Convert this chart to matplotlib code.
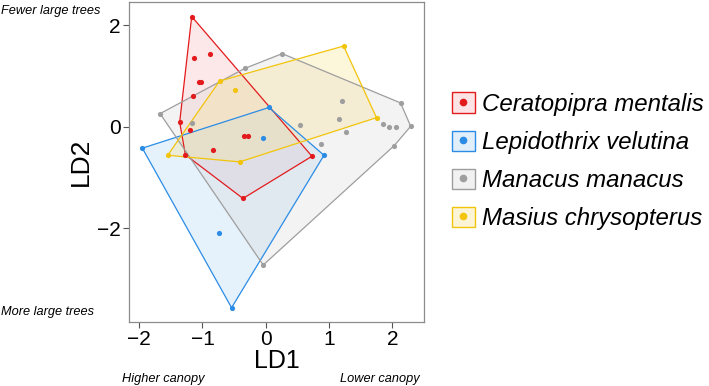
import numpy as np
import matplotlib
matplotlib.use("Agg")
import matplotlib.pyplot as plt
from matplotlib.patches import Polygon, Patch
from matplotlib.lines import Line2D

plt.rcParams['font.family'] = ['Liberation Sans', 'DejaVu Sans']

# LD scores, one pair of arrays per species
species = ["Ceratopipra mentalis", "Lepidothrix velutina",
           "Manacus manacus", "Masius chrysopterus"]

cer_ld1 = [-1.17, -0.88, -1.14, -1.06, -1.03, -1.15, -1.36, -1.20, -0.35, -0.28, -0.84, -1.27, -0.36, 0.73]
cer_ld2 = [2.17, 1.44, 1.35, 0.89, 0.89, 0.61, 0.09, -0.07, -0.18, -0.18, -0.46, -0.55, -1.41, -0.58]

lep_ld1 = [0.05, -0.04, -1.95, 0.92, -0.74, -0.54]
lep_ld2 = [0.38, -0.22, -0.42, -0.56, -2.09, -3.56]

man_ld1 = [-0.33, -1.67, -1.17, 0.26, 2.13, 2.29, 2.03, 1.20, 1.16, 1.27, 0.54, 0.88, 1.86, 1.95, 2.06, -0.04]
man_ld2 = [1.15, 0.26, 0.07, 1.44, 0.47, 0.01, -0.37, 0.50, 0.15, -0.10, 0.03, -0.33, 0.05, -0.01, -0.01, -2.72]

mas_ld1 = [-0.73, -0.49, -1.55, -0.41, 1.23, 1.75]
mas_ld2 = [0.90, 0.72, -0.56, -0.69, 1.59, 0.18]

colors = ["#e31a1c", "#2b8ce6", "#9e9e9e", "#f2c40c"]
fills = ["#f8b4b8", "#a9d2f5", "#d9d9d9", "#f7e28a"]


def hull(x, y):
    pts = sorted(set(zip(x, y)))

    def cross(o, a, b):
        return (a[0] - o[0]) * (b[1] - o[1]) - (a[1] - o[1]) * (b[0] - o[0])

    lower, upper = [], []
    for p in pts:
        while len(lower) >= 2 and cross(lower[-2], lower[-1], p) <= 0:
            lower.pop()
        lower.append(p)
    for p in reversed(pts):
        while len(upper) >= 2 and cross(upper[-2], upper[-1], p) <= 0:
            upper.pop()
        upper.append(p)
    return np.array(lower[:-1] + upper[:-1])


fig = plt.figure(figsize=(7.09, 3.86), dpi=100)
ax = fig.add_axes([0.182, 0.166, 0.416, 0.828])

groups = [(cer_ld1, cer_ld2), (lep_ld1, lep_ld2), (man_ld1, man_ld2), (mas_ld1, mas_ld2)]

for (x, y), c, f in zip(groups, colors, fills):
    h = hull(x, y)
    ax.add_patch(Polygon(h, closed=True, facecolor=f, alpha=0.3, edgecolor="none", zorder=1))
    ax.add_patch(Polygon(h, closed=True, facecolor="none", edgecolor=c, lw=0.9, zorder=2))
    ax.scatter(x, y, s=14, color=c, zorder=3, linewidths=0)

ax.set_xlim(-2.16, 2.50)
ax.set_ylim(-3.84, 2.45)
ax.set_xticks([-2, -1, 0, 1, 2])
ax.set_yticks([-2, 0, 2])
ax.set_xticklabels(["\u22122", "\u22121", "0", "1", "2"])
ax.set_yticklabels(["\u22122", "0", "2"])
ax.tick_params(labelsize=15, length=4, width=0.8, color="#555555", pad=2)
for s in ax.spines.values():
    s.set_color("#8c8c8c")
    s.set_linewidth(0.9)
ax.set_xlabel("LD1", fontsize=18, labelpad=0)
ax.set_ylabel("LD2", fontsize=19, labelpad=3)

fig.text(0.002, 0.972, "Fewer large trees", fontsize=9.2, style="italic", va="center")
fig.text(0.002, 0.192, "More large trees", fontsize=9.2, style="italic", va="center")
fig.text(0.172, 0.018, "Higher canopy", fontsize=9.2, style="italic", va="center")
fig.text(0.480, 0.018, "Lower canopy", fontsize=9.2, style="italic", va="center")

handles = []
for c, f in zip(colors, fills):
    handles.append((Patch(facecolor=f, alpha=0.35, edgecolor="none"),
                    Patch(facecolor="none", edgecolor=c, lw=1.0),
                    Line2D([], [], marker="o", color=c, ls="none", markersize=4.5)))
leg = fig.legend(handles, species, loc="center left", bbox_to_anchor=(0.607, 0.582),
                 frameon=False, prop={"style": "italic", "size": 17.3},
                 handlelength=0.95, handleheight=0.95, labelspacing=0.6, handletextpad=0.3)

fig.savefig("out.png", dpi=100)
